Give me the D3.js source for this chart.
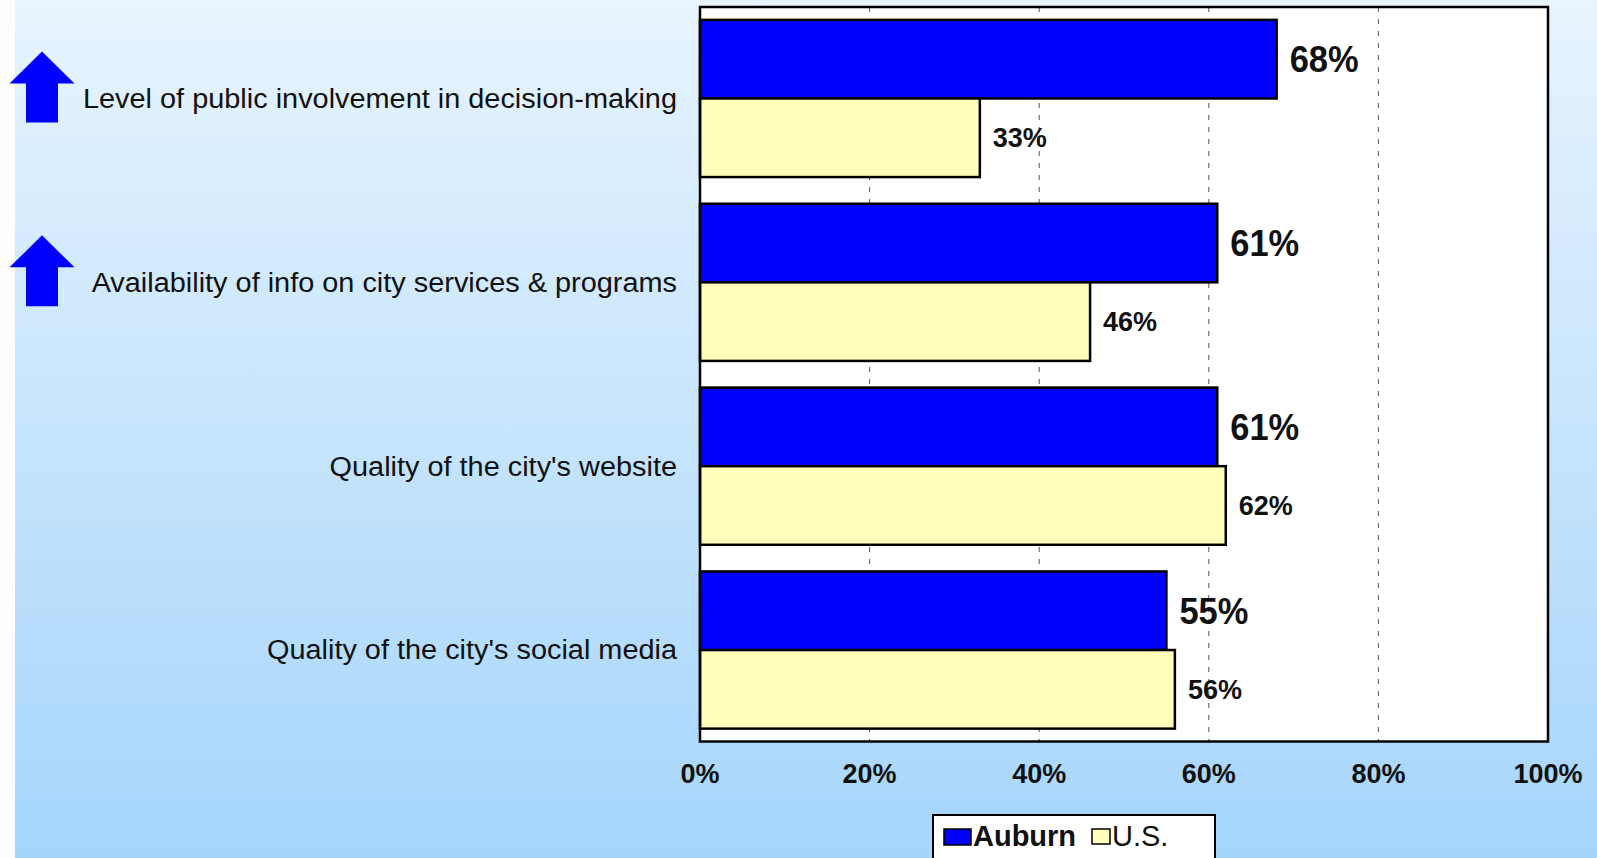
<!DOCTYPE html>
<html>
<head>
<meta charset="utf-8">
<script src="https://cdn.jsdelivr.net/npm/d3@7/dist/d3.min.js"></script>
<style>
  html, body { margin: 0; padding: 0; background: #ffffff; }
  svg { display: block; }
  text { font-family: "Liberation Sans", Arial, sans-serif; }
</style>
</head>
<body>
<svg id="chart" width="1597" height="858"></svg>
<script>
// Survey items, top to bottom
const categories = [
  "Level of public involvement in decision-making",
  "Availability of info on city services & programs",
  "Quality of the city's website",
  "Quality of the city's social media"
];
// Percent rating positively
const auburnValues = [68, 61, 61, 55];
const usValues = [33, 46, 62, 56];
// Items flagged as notably above the national benchmark
const aboveBenchmark = [true, true, false, false];
const seriesNames = ["Auburn", "U.S."];
const xTicks = [0, 20, 40, 60, 80, 100];

const W = 1597, H = 858;
const plot = { left: 700, right: 1548, top: 7, bottom: 741.5 };
const colors = { auburn: "#0000FF", us: "#FFFFBB" };

const svg = d3.select("#chart");

// Page background: white strip on the left, then a soft blue vertical gradient
const defs = svg.append("defs");
const grad = defs.append("linearGradient")
  .attr("id", "bg").attr("x1", 0).attr("y1", 0).attr("x2", 0).attr("y2", 1);
grad.append("stop").attr("offset", "0%").attr("stop-color", "#E8F4FE");
grad.append("stop").attr("offset", "100%").attr("stop-color", "#A5D5FB");
svg.append("rect").attr("x", 0).attr("y", 0).attr("width", W).attr("height", H).attr("fill", "#FDFDFE");
svg.append("rect").attr("x", 15).attr("y", 0).attr("width", W - 15).attr("height", H).attr("fill", "url(#bg)");

// Scales
const x = d3.scaleLinear().domain([0, 100]).range([plot.left, plot.right]);
const y = d3.scaleBand().domain(categories)
  .range([plot.top, plot.bottom]).paddingInner(0.145).paddingOuter(0.07);
const ySub = d3.scaleBand().domain(seriesNames).range([0, y.bandwidth()]);

// Plot area
svg.append("rect")
  .attr("x", plot.left).attr("y", plot.top)
  .attr("width", plot.right - plot.left).attr("height", plot.bottom - plot.top)
  .attr("fill", "#ffffff");

// Dashed vertical gridlines
svg.append("g").selectAll("line")
  .data(xTicks.filter(t => t > 0 && t < 100))
  .join("line")
  .attr("x1", d => x(d)).attr("x2", d => x(d))
  .attr("y1", plot.top).attr("y2", plot.bottom)
  .attr("stroke", "#555").attr("stroke-width", 1)
  .attr("stroke-dasharray", "5,7");

// Bars
const rows = categories.map((c, i) => ({ cat: c, auburn: auburnValues[i], us: usValues[i] }));
const g = svg.append("g");

g.selectAll("rect.auburn").data(rows).join("rect")
  .attr("class", "auburn")
  .attr("x", x(0))
  .attr("y", d => y(d.cat) + ySub("Auburn"))
  .attr("width", d => x(d.auburn) - x(0))
  .attr("height", ySub.bandwidth())
  .attr("fill", colors.auburn)
  .attr("stroke", "#000").attr("stroke-width", 2.5);

g.selectAll("rect.us").data(rows).join("rect")
  .attr("class", "us")
  .attr("x", x(0))
  .attr("y", d => y(d.cat) + ySub("U.S."))
  .attr("width", d => x(d.us) - x(0))
  .attr("height", ySub.bandwidth())
  .attr("fill", colors.us)
  .attr("stroke", "#000").attr("stroke-width", 2.5);

// Value labels
g.selectAll("text.auburn").data(rows).join("text")
  .attr("class", "auburn")
  .attr("x", d => x(d.auburn) + 13)
  .attr("y", d => y(d.cat) + ySub("Auburn") + ySub.bandwidth() / 2)
  .attr("dy", "0.36em")
  .attr("font-size", 36).attr("font-weight", "bold").attr("fill", "#111")
  .attr("textLength", 69).attr("lengthAdjust", "spacingAndGlyphs")
  .text(d => d.auburn + "%");

g.selectAll("text.us").data(rows).join("text")
  .attr("class", "us")
  .attr("x", d => x(d.us) + 13)
  .attr("y", d => y(d.cat) + ySub("U.S.") + ySub.bandwidth() / 2)
  .attr("dy", "0.36em")
  .attr("font-size", 27).attr("font-weight", "bold").attr("fill", "#111")
  .text(d => d.us + "%");

// Plot frame on top of bars
svg.append("rect")
  .attr("x", plot.left).attr("y", plot.top)
  .attr("width", plot.right - plot.left).attr("height", plot.bottom - plot.top)
  .attr("fill", "none").attr("stroke", "#000").attr("stroke-width", 2.5);

// Category labels (slightly wide-set, right-aligned against the plot)
svg.append("g").selectAll("text").data(categories).join("text")
  .attr("transform", d => `translate(677,${y(d) + y.bandwidth() / 2}) scale(1.07,1)`)
  .attr("dy", "0.35em")
  .attr("text-anchor", "end")
  .attr("font-size", 27).attr("fill", "#111")
  .text(d => d);

// Up arrows beside items above the benchmark
const arrowPath = "M0,0 L32.5,32 L16,32 L16,71 L-16,71 L-16,32 L-32.5,32 Z";
svg.append("g").selectAll("path")
  .data(categories.filter((c, i) => aboveBenchmark[i]))
  .join("path")
  .attr("transform", d => `translate(42,${y(d) + y.bandwidth() / 2 - 47})`)
  .attr("d", arrowPath)
  .attr("fill", "#0000FF");

// X axis tick labels
svg.append("g").selectAll("text").data(xTicks).join("text")
  .attr("x", d => x(d))
  .attr("y", 783)
  .attr("text-anchor", "middle")
  .attr("font-size", 27).attr("font-weight", "bold").attr("fill", "#111")
  .text(d => d + "%");

// Legend
const lg = svg.append("g");
lg.append("rect").attr("x", 933).attr("y", 815).attr("width", 282).attr("height", 60)
  .attr("fill", "#ffffff").attr("stroke", "#000").attr("stroke-width", 2);
lg.append("rect").attr("x", 944).attr("y", 829).attr("width", 27).attr("height", 16)
  .attr("fill", colors.auburn).attr("stroke", "#000").attr("stroke-width", 1.5);
lg.append("text").attr("x", 973).attr("y", 846)
  .attr("font-size", 29).attr("font-weight", "bold").attr("fill", "#111")
  .text(seriesNames[0]);
lg.append("rect").attr("x", 1092).attr("y", 829).attr("width", 18).attr("height", 15)
  .attr("fill", colors.us).attr("stroke", "#000").attr("stroke-width", 1.5);
lg.append("text").attr("x", 1112).attr("y", 846)
  .attr("font-size", 29).attr("fill", "#111")
  .text(seriesNames[1]);
</script>
</body>
</html>
